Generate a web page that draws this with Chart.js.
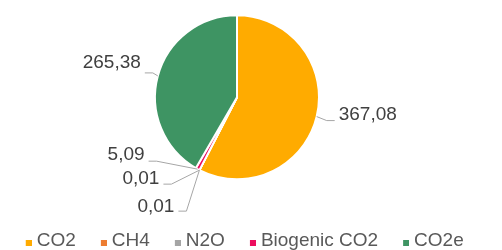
<!DOCTYPE html>
<html>
<head>
<meta charset="utf-8">
<script src="https://cdn.jsdelivr.net/npm/chart.js@4"></script>
<style>
  html, body { margin: 0; padding: 0; background: #fff; }
  #wrap { width: 502px; height: 250px; position: relative; }
</style>
</head>
<body>
<div id="wrap"><canvas id="chart"></canvas></div>
<script>
// data
const categories = ['CO2', 'CH4', 'N2O', 'Biogenic CO2', 'CO2e'];
const values = [367.08, 0.01, 0.01, 5.09, 265.38];
const colors = ['#FFAB00', '#ED7D31', '#A5A5A5', '#EC0E5F', '#3E9463'];

// label leader layout: elbow offset from slice edge [dx, dy], text baseline shift
const labelOffsets = [[10, 4, -1], [-28, 14, 0], [-13, 41, 1], [-41, -8, -1.5], [-5, -3, -4.5]];

const fmt = v => v.toFixed(2).replace('.', ',');

// legend marker: small square drawn at the right end of a transparent strip
function marker(color) {
  const c = document.createElement('canvas');
  c.width = 26;
  c.height = 11;
  const g = c.getContext('2d');
  g.fillStyle = color;
  g.fillRect(20, 5, 6, 6);
  return c;
}
const markers = colors.map(marker);

const leaderLabels = {
  id: 'leaderLabels',
  afterDatasetsDraw(chart) {
    const ctx = chart.ctx;
    const meta = chart.getDatasetMeta(0);
    ctx.save();
    ctx.font = '19px "Liberation Sans", Arial, sans-serif';
    ctx.fillStyle = '#404040';
    ctx.strokeStyle = '#A6A6A6';
    ctx.lineWidth = 1;
    ctx.textBaseline = 'alphabetic';
    meta.data.forEach((arc, i) => {
      const p = arc.getProps(['x', 'y', 'startAngle', 'endAngle', 'outerRadius'], true);
      const mid = (p.startAngle + p.endAngle) / 2;
      const ax = p.x + Math.cos(mid) * p.outerRadius;
      const ay = p.y + Math.sin(mid) * p.outerRadius;
      const [dx, dy, ty] = labelOffsets[i];
      const side = dx >= 0 ? 1 : -1;
      const ex = ax + dx, ey = ay + dy;
      const lx = ex + side * 8;
      ctx.beginPath();
      ctx.moveTo(ax, ay);
      ctx.lineTo(ex, ey);
      ctx.lineTo(lx, ey);
      ctx.stroke();
      ctx.textAlign = side > 0 ? 'left' : 'right';
      ctx.fillText(fmt(values[i]), lx + side * 4, ey + ty);
    });
    ctx.restore();
  }
};

Chart.defaults.font.family = '"Liberation Sans", Arial, sans-serif';

new Chart(document.getElementById('chart'), {
  type: 'pie',
  data: {
    labels: categories,
    datasets: [{
      data: values,
      backgroundColor: colors,
      borderColor: '#ffffff',
      borderWidth: 2
    }]
  },
  options: {
    responsive: true,
    maintainAspectRatio: false,
    animation: false,
    radius: 82,
    layout: {
      padding: { top: 0, bottom: -10, left: 0, right: 28 }
    },
    plugins: {
      tooltip: { enabled: false },
      legend: {
        position: 'bottom',
        title: {
          display: true,
          text: ' ',
          font: { size: 10 },
          padding: { top: 15, bottom: 0 }
        },
        labels: {
          usePointStyle: true,
          boxWidth: 17,
          padding: 9.5,
          color: '#595959',
          font: { size: 19 },
          generateLabels: () => categories.map((t, i) => ({
            text: t,
            fillStyle: colors[i],
            strokeStyle: colors[i],
            lineWidth: 0,
            pointStyle: markers[i],
            fontColor: '#595959',
            hidden: false,
            index: i
          }))
        }
      }
    }
  },
  plugins: [leaderLabels]
});
</script>
</body>
</html>
